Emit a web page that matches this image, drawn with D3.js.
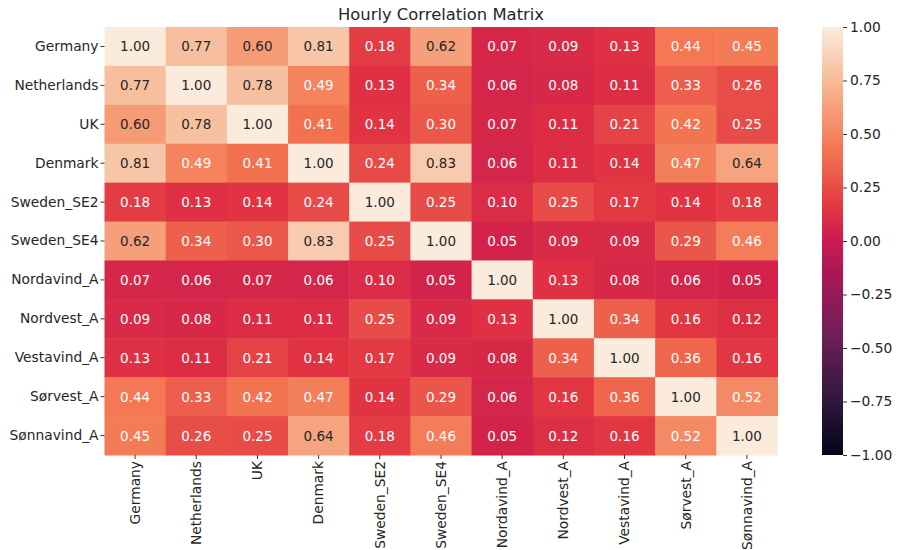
<!DOCTYPE html>
<html>
<head>
<meta charset="utf-8">
<script src="https://cdn.jsdelivr.net/npm/d3@7"></script>
<style>
  html, body { margin: 0; padding: 0; background: #ffffff; }
  svg { display: block; font-family: "DejaVu Sans", sans-serif; }
</style>
</head>
<body>
<svg id="chart" width="898" height="550"></svg>
<script>
// Regions / price areas shown on both axes
const regions = ["Germany", "Netherlands", "UK", "Denmark", "Sweden_SE2", "Sweden_SE4",
  "Nordavind_A", "Nordvest_A", "Vestavind_A", "Sørvest_A", "Sønnavind_A"];

// Hourly correlation coefficients, one row per region
const rowGermany     = [1.00, 0.77, 0.60, 0.81, 0.18, 0.62, 0.07, 0.09, 0.13, 0.44, 0.45];
const rowNetherlands = [0.77, 1.00, 0.78, 0.49, 0.13, 0.34, 0.06, 0.08, 0.11, 0.33, 0.26];
const rowUK          = [0.60, 0.78, 1.00, 0.41, 0.14, 0.30, 0.07, 0.11, 0.21, 0.42, 0.25];
const rowDenmark     = [0.81, 0.49, 0.41, 1.00, 0.24, 0.83, 0.06, 0.11, 0.14, 0.47, 0.64];
const rowSwedenSE2   = [0.18, 0.13, 0.14, 0.24, 1.00, 0.25, 0.10, 0.25, 0.17, 0.14, 0.18];
const rowSwedenSE4   = [0.62, 0.34, 0.30, 0.83, 0.25, 1.00, 0.05, 0.09, 0.09, 0.29, 0.46];
const rowNordavind   = [0.07, 0.06, 0.07, 0.06, 0.10, 0.05, 1.00, 0.13, 0.08, 0.06, 0.05];
const rowNordvest    = [0.09, 0.08, 0.11, 0.11, 0.25, 0.09, 0.13, 1.00, 0.34, 0.16, 0.12];
const rowVestavind   = [0.13, 0.11, 0.21, 0.14, 0.17, 0.09, 0.08, 0.34, 1.00, 0.36, 0.16];
const rowSorvest     = [0.44, 0.33, 0.42, 0.47, 0.14, 0.29, 0.06, 0.16, 0.36, 1.00, 0.52];
const rowSonnavind   = [0.45, 0.26, 0.25, 0.64, 0.18, 0.46, 0.05, 0.12, 0.16, 0.52, 1.00];

const matrix = [rowGermany, rowNetherlands, rowUK, rowDenmark, rowSwedenSE2, rowSwedenSE4,
  rowNordavind, rowNordvest, rowVestavind, rowSorvest, rowSonnavind];

const colorbarTicks = [1.00, 0.75, 0.50, 0.25, 0.00, -0.25, -0.50, -0.75, -1.00];
const chartTitle = "Hourly Correlation Matrix";

// "rocket" style sequential palette
const rocketStops = ["#03051a", "#35193e", "#701f57", "#ad1759", "#cb1b4f", "#e13342", "#f37651", "#f6b48f", "#faebdd"];
const rocketPos = [0, 1/7, 2/7, 3/7, 0.5, 4/7, 5/7, 6/7, 1];
const rocket = d3.scaleLinear().domain(rocketPos).range(rocketStops).interpolate(d3.interpolateRgb);
const color = v => rocket((v + 1) / 2);

// text colour chosen by relative luminance of the cell
function luminance(c) {
  const rgb = d3.rgb(c);
  const lin = x => { x /= 255; return x <= 0.03928 ? x / 12.92 : Math.pow((x + 0.055) / 1.055, 2.4); };
  return 0.2126 * lin(rgb.r) + 0.7152 * lin(rgb.g) + 0.0722 * lin(rgb.b);
}

const svg = d3.select("#chart");
const plotLeft = 104.5, plotRight = 777.5, plotTop = 27, plotBottom = 455;

const x = d3.scaleBand().domain(regions).range([plotLeft, plotRight]);
const y = d3.scaleBand().domain(regions).range([plotTop, plotBottom]);

// cells
const cells = [];
matrix.forEach((row, i) => row.forEach((v, j) => cells.push({ r: regions[i], c: regions[j], v })));

svg.append("g").selectAll("rect").data(cells).join("rect")
  .attr("x", d => x(d.c))
  .attr("y", d => y(d.r))
  .attr("width", x.bandwidth() + 0.5)
  .attr("height", y.bandwidth() + 0.5)
  .attr("fill", d => color(d.v));

svg.append("g").selectAll("text").data(cells).join("text")
  .attr("x", d => x(d.c) + x.bandwidth() / 2)
  .attr("y", d => y(d.r) + y.bandwidth() / 2)
  .attr("text-anchor", "middle")
  .attr("dominant-baseline", "central")
  .attr("font-size", 13.5)
  .attr("fill", d => luminance(color(d.v)) > 0.408 ? "#262626" : "#ffffff")
  .text(d => d.v.toFixed(2));

// axes
const yAxis = d3.axisLeft(y).tickSize(4).tickPadding(2);
const gy = svg.append("g").attr("transform", `translate(${plotLeft},0)`).call(yAxis);
gy.select(".domain").remove();
gy.selectAll("text").attr("font-size", 13.8).attr("fill", "#262626").attr("font-family", "DejaVu Sans");
gy.selectAll("line").attr("stroke", "#333");

const xAxis = d3.axisBottom(x).tickSize(4).tickPadding(2);
const gx = svg.append("g").attr("transform", `translate(0,${plotBottom})`).call(xAxis);
gx.select(".domain").remove();
gx.selectAll("line").attr("stroke", "#333");
gx.selectAll("text")
  .attr("font-size", 13.8).attr("fill", "#262626").attr("font-family", "DejaVu Sans")
  .attr("transform", "rotate(-90)")
  .attr("text-anchor", "end")
  .attr("x", -6).attr("y", 0).attr("dy", "0.35em");

// title
svg.append("text")
  .attr("x", (plotLeft + plotRight) / 2).attr("y", 20)
  .attr("text-anchor", "middle")
  .attr("font-size", 16.4).attr("fill", "#262626")
  .text(chartTitle);

// colorbar
const cbX = 822, cbW = 21;
const cbScale = d3.scaleLinear().domain([-1, 1]).range([plotBottom, plotTop]);
const defs = svg.append("defs");
const grad = defs.append("linearGradient").attr("id", "cbGrad")
  .attr("x1", 0).attr("y1", 1).attr("x2", 0).attr("y2", 0);
d3.range(0, 1.0001, 0.02).forEach(t => {
  grad.append("stop").attr("offset", t).attr("stop-color", rocket(t));
});
svg.append("rect").attr("x", cbX).attr("y", plotTop).attr("width", cbW).attr("height", plotBottom - plotTop)
  .attr("fill", "url(#cbGrad)");

const cbAxis = d3.axisRight(cbScale).tickValues(colorbarTicks).tickSize(4).tickPadding(3)
  .tickFormat(d => d3.format(".2f")(d).replace("-", "\u2212"));
const gc = svg.append("g").attr("transform", `translate(${cbX + cbW},0)`).call(cbAxis);
gc.select(".domain").remove();
gc.selectAll("line").attr("stroke", "#333");
gc.selectAll("text").attr("font-size", 13.8).attr("fill", "#262626").attr("font-family", "DejaVu Sans");
</script>
</body>
</html>
